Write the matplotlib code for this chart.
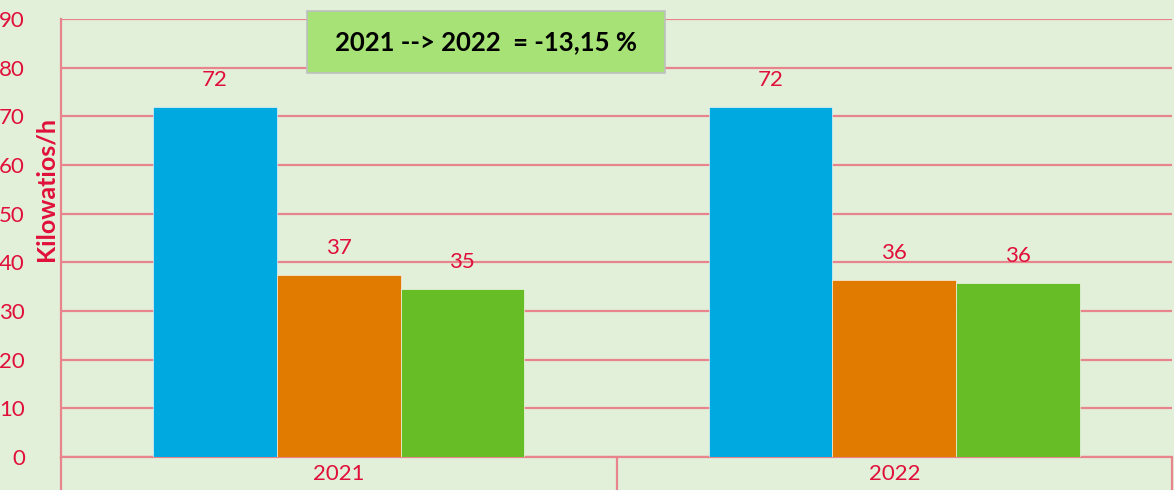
import matplotlib.pyplot as plt
from matplotlib.patches import Rectangle

years = ['2021', '2022']
serie_azul = [72, 72]
serie_naranja = [37.4, 36.4]
serie_verde = [34.5, 35.7]
etiquetas_azul = ['72', '72']
etiquetas_naranja = ['37', '36']
etiquetas_verde = ['35', '36']
nota = '2021 --> 2022  = -13,15 %'

ROJO = '#E0103A'
REJILLA = '#E8848C'
FONDO = '#E2EFD9'


def main():
    plt.rcParams['font.family'] = ['Lato', 'DejaVu Sans']
    fig = plt.figure(figsize=(11.74, 4.9), dpi=100, facecolor=FONDO)
    ax = fig.add_axes([61 / 1174, 33 / 490, 1111 / 1174, 438 / 490])
    ax.set_facecolor(FONDO)

    x = list(range(len(years)))
    w = 0.2225
    series = [(serie_azul, etiquetas_azul, '#00A9E0', -w),
              (serie_naranja, etiquetas_naranja, '#E07B00', 0),
              (serie_verde, etiquetas_verde, '#67BD26', w)]
    for vals, labs, color, off in series:
        pos = [i + off for i in x]
        ax.bar(pos, vals, width=w, color=color, edgecolor='white',
               linewidth=0.4, zorder=3)
        for p, v, t in zip(pos, vals, labs):
            ax.annotate(t, (p, v), xytext=(0, 19.5), textcoords='offset points',
                        ha='center', va='center', color=ROJO, fontsize=16)

    ax.set_xlim(-0.5, 1.5)
    ax.set_ylim(0, 90)
    ax.set_yticks(range(0, 91, 10))
    ax.grid(axis='y', color=REJILLA, linewidth=1.6, zorder=0)
    ax.set_axisbelow(True)

    ax.set_xticks(x)
    ax.set_xticklabels(years, color=ROJO, fontsize=16)
    ax.tick_params(axis='x', which='major', length=0, pad=5)
    ax.set_xticks([-0.5, 0.5, 1.5], minor=True)
    ax.tick_params(axis='x', which='minor', length=34, width=1.6, color=REJILLA)
    ax.tick_params(axis='y', length=0, pad=26, labelcolor=ROJO, labelsize=16)

    for s in ['top', 'right']:
        ax.spines[s].set_visible(False)
    for s in ['left', 'bottom']:
        ax.spines[s].set_color(REJILLA)
        ax.spines[s].set_linewidth(1.6)

    fig.text(46 / 1174, 1 - 189 / 490, 'Kilowatios/h', rotation=90, ha='center',
             va='center', color=ROJO, fontsize=18, fontweight='bold')

    fig.patches.append(Rectangle((307 / 1174, 1 - 73 / 490), 358 / 1174, 62 / 490,
                                 transform=fig.transFigure, facecolor='#A6E275',
                                 edgecolor='#BFBFBF', linewidth=1.2, zorder=5))
    fig.text(486 / 1174, 1 - 42 / 490, nota, ha='center', va='center',
             fontsize=18.5, fontweight='bold', color='black', zorder=6)

    fig.savefig('out.png', dpi=100, facecolor=FONDO)


if __name__ == '__main__':
    main()
